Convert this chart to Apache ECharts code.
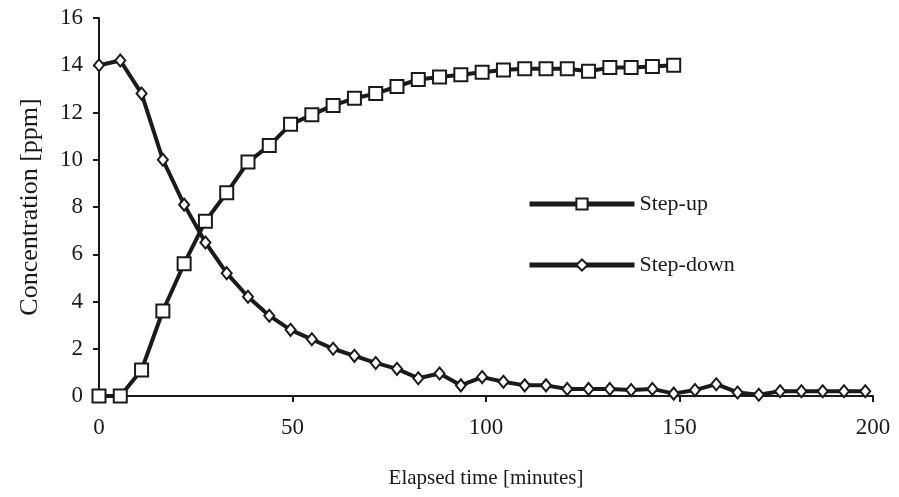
<!DOCTYPE html>
<html>
<head>
<meta charset="UTF-8">
<title>Concentration step response</title>
<script src="https://cdn.jsdelivr.net/npm/echarts@6.0.0/dist/echarts.min.js"></script>
<style>
    html, body { margin: 0; padding: 0; background: #fff; }
    #chart { width: 899px; height: 497px; }
</style>
</head>
<body>
<div id="chart"></div>
<script>
    // elapsed time in minutes
    const timeUp = [0, 5.5, 11, 16.5, 22, 27.5, 33, 38.5, 44, 49.5, 55, 60.5, 66, 71.5,
        77, 82.5, 88, 93.5, 99, 104.5, 110, 115.5, 121, 126.5, 132, 137.5, 143, 148.5];
    const stepUp = [0, 0, 1.1, 3.6, 5.6, 7.4, 8.6, 9.9, 10.6, 11.5, 11.9, 12.3, 12.6, 12.8,
        13.1, 13.4, 13.5, 13.6, 13.7, 13.8, 13.85, 13.85, 13.85, 13.75, 13.9, 13.9, 13.95, 14.0];

    const timeDown = [0, 5.5, 11, 16.5, 22, 27.5, 33, 38.5, 44, 49.5, 55, 60.5, 66, 71.5,
        77, 82.5, 88, 93.5, 99, 104.5, 110, 115.5, 121, 126.5, 132, 137.5, 143, 148.5,
        154, 159.5, 165, 170.5, 176, 181.5, 187, 192.5, 198];
    const stepDown = [14.0, 14.2, 12.8, 10.0, 8.1, 6.5, 5.2, 4.2, 3.4, 2.8, 2.4, 2.0, 1.7, 1.4,
        1.15, 0.75, 0.95, 0.45, 0.8, 0.6, 0.45, 0.45, 0.3, 0.3, 0.3, 0.25, 0.3, 0.1,
        0.25, 0.5, 0.15, 0.05, 0.2, 0.2, 0.2, 0.2, 0.2];

    const xTicks = [0, 50, 100, 150, 200];
    const yTicks = [0, 2, 4, 6, 8, 10, 12, 14, 16];

    const font = 'Liberation Serif';
    const ink = '#1a1a1a';

    function pairs(xs, ys) {
        return xs.map((x, i) => [x, ys[i]]);
    }

    const chart = echarts.init(document.getElementById('chart'));
    chart.setOption({
        animation: false,
        backgroundColor: '#fff',
        grid: { left: 99, right: 26, top: 18, bottom: 101 },
        legend: {
            orient: 'vertical',
            left: 522,
            top: 188,
            itemWidth: 105,
            itemHeight: 14,
            itemGap: 39,
            lineStyle: { width: 5, color: ink },
            textStyle: { fontFamily: font, fontSize: 22, color: ink },
            data: ['Step-up', 'Step-down']
        },
        xAxis: {
            type: 'value',
            min: xTicks[0],
            max: xTicks[xTicks.length - 1],
            interval: 50,
            name: 'Elapsed time [minutes]',
            nameLocation: 'middle',
            nameGap: 72,
            nameTextStyle: { fontFamily: font, fontSize: 21, color: ink },
            axisLine: { lineStyle: { color: ink, width: 2 } },
            axisTick: { length: 6, lineStyle: { color: ink, width: 2 } },
            axisLabel: { fontFamily: font, fontSize: 23, color: ink, margin: 20 },
            splitLine: { show: false }
        },
        yAxis: {
            type: 'value',
            min: yTicks[0],
            max: yTicks[yTicks.length - 1],
            interval: 2,
            name: 'Concentration [ppm]',
            nameLocation: 'middle',
            nameGap: 56,
            nameTextStyle: { fontFamily: font, fontSize: 26, color: ink },
            axisLine: { show: true, lineStyle: { color: ink, width: 2 } },
            axisTick: { show: true, length: 6, lineStyle: { color: ink, width: 2 } },
            axisLabel: { fontFamily: font, fontSize: 23, color: ink, margin: 16 },
            splitLine: { show: false }
        },
        series: [
            {
                name: 'Step-up',
                type: 'line',
                data: pairs(timeUp, stepUp),
                symbol: 'rect',
                symbolSize: 13,
                showAllSymbol: true,
                lineStyle: { color: ink, width: 4 },
                itemStyle: { color: '#fff', borderColor: ink, borderWidth: 2 },
                z: 3
            },
            {
                name: 'Step-down',
                type: 'line',
                data: pairs(timeDown, stepDown),
                symbol: 'diamond',
                symbolSize: [10, 12],
                showAllSymbol: true,
                lineStyle: { color: ink, width: 4 },
                itemStyle: { color: '#fff', borderColor: ink, borderWidth: 2 },
                z: 2
            }
        ]
    });
</script>
</body>
</html>
